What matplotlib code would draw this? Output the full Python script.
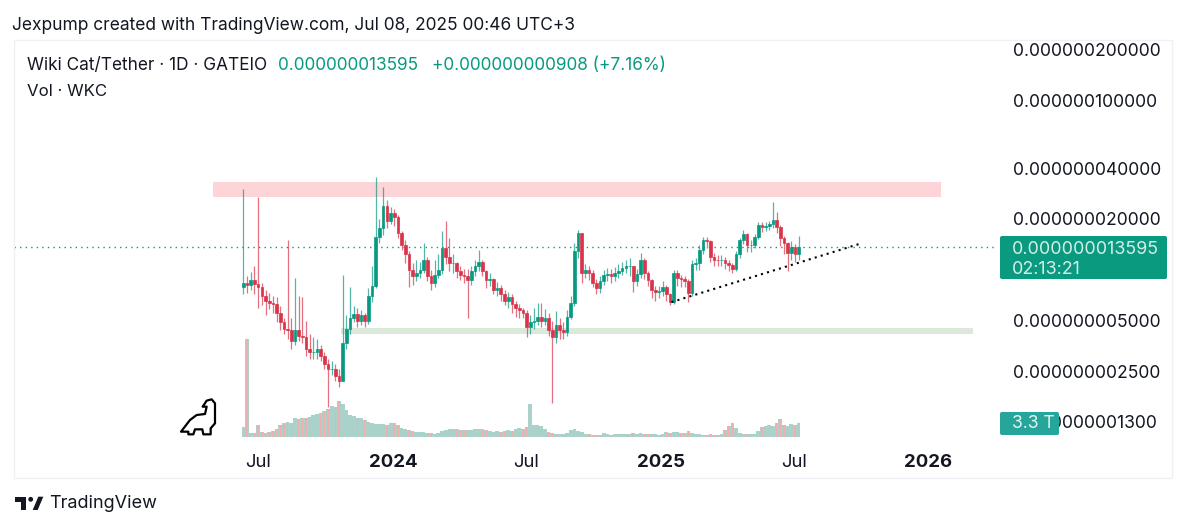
import matplotlib
matplotlib.use("Agg")
import matplotlib.pyplot as plt
import matplotlib.dates as mdates
from matplotlib.patches import Rectangle, Polygon, Circle, FancyBboxPatch
import numpy as np
import pandas as pd

plt.rcParams['font.family'] = ['Inter', 'DejaVu Sans']

# all prices are in units of 1e-9 USDT
closes = [8.4,8.2,8.7,8.3,7.9,7.0,6.6,6.4,6.3,5.6,4.9,4.5,4.4,3.8,4.4,4.1,4.0,3.4,3.3,3.3,3.4,3.1,2.8,2.6,2.6,2.35,2.2,3.7,4.5,5.2,5.5,5.0,5.4,5.0,7.0,8.0,15.7,17.8,24.0,19.5,21.8,20.5,16.5,14.0,12.5,10.0,9.2,9.6,10.0,11.5,9.2,8.4,9.3,10.0,13.5,11.9,11.0,11.0,9.9,9.4,9.2,8.7,9.8,10.5,11.2,9.8,8.7,8.8,7.6,7.8,7.2,6.6,6.9,6.3,6.0,5.8,5.6,4.6,4.9,5.0,5.3,5.0,5.2,4.4,4.0,4.7,4.4,4.3,5.3,6.4,13.0,16.5,9.6,10.0,9.6,8.4,7.8,8.6,9.3,9.5,9.2,9.6,9.8,10.3,10.5,10.5,8.6,9.5,11.5,9.6,8.7,7.6,7.4,7.5,7.9,7.2,6.5,9.6,9.0,8.8,8.6,7.3,10.8,11.0,13.1,15.0,14.8,12.0,11.5,11.4,11.5,11.0,10.7,10.2,12.4,15.0,16.3,14.0,14.0,15.7,18.4,18.0,18.2,18.6,19.6,18.0,15.5,14.4,12.6,13.6,12.4,13.595]
highs = [29.9,9.2,9.7,10.5,27.0,8.4,7.6,7.3,7.0,6.9,6.1,5.2,15.0,5.2,9.0,7.0,6.9,5.0,4.2,4.0,3.9,3.6,3.3,3.0,2.9,2.8,2.6,9.4,5.4,7.9,6.1,6.0,5.8,5.6,7.8,10.5,35.5,20.0,30.9,26.0,23.5,23.0,21.0,17.0,15.0,13.0,11.0,11.5,11.2,14.5,12.0,10.0,11.5,12.5,17.0,19.5,15.5,12.5,11.2,10.5,10.2,10.2,10.6,11.5,13.2,11.5,10.0,9.6,9.0,8.5,8.2,7.6,7.4,7.2,6.6,6.3,6.0,5.8,5.4,6.0,6.4,6.4,5.9,5.6,5.0,5.7,5.2,4.9,5.8,7.0,14.5,17.2,16.0,10.8,10.5,10.0,8.8,9.2,10.0,10.3,10.2,10.4,10.8,11.2,11.5,11.8,10.6,10.2,12.6,11.8,9.8,8.8,8.0,8.0,8.6,8.2,7.3,10.0,10.0,9.4,9.2,8.8,11.5,11.8,14.0,15.6,15.6,15.0,12.6,12.2,12.2,12.0,11.5,11.0,13.0,15.5,17.2,16.6,15.0,16.2,19.2,19.2,19.2,19.4,25.2,22.0,18.4,15.8,14.6,14.8,14.2,15.8]
lows = [7.2,7.3,7.6,7.2,6.0,6.2,5.4,5.9,5.6,4.9,4.4,4.2,3.9,3.4,3.6,3.8,3.7,3.1,3.0,3.0,3.0,2.9,2.6,1.56,2.4,2.2,2.05,2.2,3.4,4.2,4.9,4.6,4.7,4.6,4.8,6.5,7.8,14.5,16.0,17.8,18.8,18.2,15.5,13.2,11.0,7.9,8.2,8.6,9.0,9.6,8.6,7.6,7.9,9.0,9.5,10.8,9.8,9.6,9.0,8.7,8.4,5.2,8.2,9.2,9.8,9.2,7.8,8.0,7.2,7.0,6.6,6.2,6.0,5.6,5.3,5.2,5.2,4.0,4.2,4.5,4.7,4.6,4.7,4.1,1.64,3.7,3.9,3.9,4.1,5.1,6.1,11.8,8.4,9.0,8.7,7.9,7.2,7.3,8.2,8.6,8.4,8.6,9.0,9.3,9.6,9.2,7.4,8.0,9.0,8.8,8.0,6.8,6.6,6.8,7.0,6.6,6.2,6.3,8.0,7.9,7.9,6.5,7.0,10.0,10.0,12.4,13.4,11.2,10.6,10.6,10.5,10.2,9.8,9.6,9.8,11.8,14.2,12.8,12.8,13.4,15.3,16.8,17.0,17.2,17.6,16.6,13.8,12.4,9.9,11.4,11.2,11.4]
first_open = 7.9
volumes_T = [2.4,23.1,1.0,1.0,2.8,1.2,1.0,1.2,1.4,2.0,2.8,3.4,3.6,3.2,4.4,4.2,4.6,4.6,4.8,5.2,5.4,5.6,6.2,6.6,7.2,7.0,8.5,7.8,6.4,5.2,5.0,4.6,4.4,4.0,3.6,3.2,3.0,3.0,3.0,2.8,3.2,3.4,2.8,2.2,2.0,1.6,1.4,1.2,1.2,1.2,1.0,0.9,0.8,1.0,1.4,1.6,1.8,2.0,1.8,1.6,1.6,1.6,1.6,1.8,2.0,1.8,1.6,1.4,1.2,1.4,1.2,1.4,1.6,1.4,1.8,2.2,2.0,2.4,7.8,2.8,2.8,2.6,2.0,1.2,1.0,0.8,0.6,0.8,1.0,1.6,1.9,1.4,1.2,0.8,0.7,0.5,0.5,0.5,1.0,0.6,0.5,0.6,0.7,0.8,0.7,0.8,0.9,0.7,1.0,0.7,0.7,0.8,0.6,0.5,0.8,1.2,1.0,1.1,1.1,0.9,0.9,1.4,0.9,0.7,0.7,0.5,0.5,0.6,0.5,0.5,0.6,1.6,2.6,3.2,2.2,1.0,0.8,0.8,0.8,0.7,1.4,2.4,2.6,2.8,2.6,3.4,4.2,2.8,2.6,3.0,2.8,3.3]

start_date = "2023-06-13"
bar_days = 5
y_ticks = [200, 100, 40, 20, 5, 2.5, 1.27]
y_labels = ["0.000000200000", "0.000000100000", "0.000000040000", "0.000000020000",
            "0.000000005000", "0.000000002500", "0.000000001300"]
x_tick_dates = ["2023-07-03", "2024-01-03", "2024-07-01", "2025-01-01", "2025-07-01", "2025-12-30"]
x_tick_labels = ["Jul", "2024", "Jul", "2025", "Jul", "2026"]
bold_labels = {"2024", "2025", "2026"}
last_price = 13.595
resistance_zone = ("2023-05-02", "2026-01-16", 27.0, 33.1)
support_zone = ("2023-10-24", "2026-03-01", 4.19, 4.53)
trend_dates = ["2025-01-15", "2025-10-01"]
trend_prices = [6.46, 14.4]

UP, DOWN = "#089981", "#d8354a"
INK = "#131722"

fig = plt.figure(figsize=(12, 5.3), dpi=100, facecolor="white")
W, H = 1200, 530
def px_pos(x0, ytop, x1, ybot):
    return [x0 / W, 1 - ybot / H, (x1 - x0) / W, (ybot - ytop) / H]

pos = px_pos(14, 40, 995, 437)
ax_v = fig.add_axes(pos, zorder=1)
ax = fig.add_axes(pos, zorder=2, sharex=ax_v)
ax.patch.set_alpha(0)

dates = pd.date_range(start_date, periods=len(closes), freq=f"{bar_days}D")
x = mdates.date2num(dates)
closes_a = np.array(closes)
opens_a = np.array([first_open] + closes[:-1])
vols = np.array(volumes_T)
up = closes_a >= opens_a
cols = np.where(up, UP, DOWN)

ax_v.bar(x, vols, width=bar_days, color="#abd2ca", linewidth=0)
ax_v.bar(x[~up], vols[~up], width=1.9, color="#f0aeac", linewidth=0)
ax_v.set_ylim(0, 93.7)
ax_v.axis("off")

ax.add_patch(Rectangle((mdates.datestr2num(resistance_zone[0]), resistance_zone[2]),
                       mdates.datestr2num(resistance_zone[1]) - mdates.datestr2num(resistance_zone[0]),
                       resistance_zone[3] - resistance_zone[2], fc="#fdd5d8", ec="none", zorder=1))
ax.add_patch(Rectangle((mdates.datestr2num(support_zone[0]), support_zone[2]),
                       mdates.datestr2num(support_zone[1]) - mdates.datestr2num(support_zone[0]),
                       support_zone[3] - support_zone[2], fc="#dce9da", ec="none", zorder=1))
ax.axhline(last_price, color=UP, lw=1.0, ls=(0, (1, 3)), zorder=2)

ax.vlines(x, lows, highs, colors=cols, lw=0.9, alpha=0.7, zorder=3)
ax.bar(x, np.abs(closes_a - opens_a), bottom=np.minimum(closes_a, opens_a), width=3.6,
       color=cols, linewidth=0.5, edgecolor=cols, zorder=4)
ax.plot(mdates.datestr2num(trend_dates), trend_prices, color="black", lw=1.5, ls=(0, (1, 2)), zorder=5)

ax.set_yscale("log")
ax.set_ylim(1.032, 228)
ax.set_xlim(mdates.datestr2num("2022-08-05"), mdates.datestr2num("2026-03-31"))
for s in ax.spines.values():
    s.set_visible(False)
ax.yaxis.tick_right()
ax.set_yticks(y_ticks)
ax.set_yticklabels(y_labels, fontsize=12.6, color=INK, ha="left")
ax.minorticks_off()
ax.tick_params(axis="y", length=0, pad=13)
ax.set_xticks(mdates.datestr2num(x_tick_dates))
ax.set_xticklabels(x_tick_labels, fontsize=13.4, color=INK)
ax.tick_params(axis="x", length=0, pad=12)
for t in ax.get_xticklabels():
    if t.get_text() in bold_labels:
        t.set_fontweight("bold")

# overlay in pixel coordinates for chrome: header, tags, logos
ov = fig.add_axes([0, 0, 1, 1], zorder=10)
ov.set_xlim(0, W); ov.set_ylim(H, 0); ov.axis("off"); ov.patch.set_alpha(0)
ov.add_patch(Rectangle((14, 40), 1158, 438, fc="none", ec="#eef0f5", lw=1))
ov.text(12, 26, "Jexpump created with TradingView.com, Jul 08, 2025 00:46 UTC+3", fontsize=12.5, color=INK, va="center")
ov.text(27, 65, "Wiki Cat/Tether · 1D · GATEIO", fontsize=12.4, color=INK, va="center")
ov.text(278, 65, "0.000000013595", fontsize=12.4, color=UP, va="center")
ov.text(432, 65, "+0.000000000908 (+7.16%)", fontsize=12.4, color=UP, va="center")
ov.text(27, 91, "Vol · WKC", fontsize=12.1, color=INK, va="center")

ov.add_patch(FancyBboxPatch((1000, 236), 167, 43, boxstyle="round,pad=0,rounding_size=2", fc="#0a9a80", ec="none"))
ov.text(1012, 249, "0.000000013595", fontsize=12.9, color="#d5efe8", va="center")
ov.text(1012, 269, "02:13:21", fontsize=12.9, color="#d5efe8", va="center")
ov.add_patch(FancyBboxPatch((1000, 412), 59, 23, boxstyle="round,pad=0,rounding_size=2", fc="#26a69a", ec="none"))
ov.text(1012, 423, "3.3 T", fontsize=12.6, color="#e3f4f1", va="center")

dino = np.array([(608,50),(620,32),(635,28),(645,40),(645,100),(632,115),(632,133),(610,133),(607,118),(585,118),(580,133),(565,133),(565,125),(543,125),(570,90),(590,75),(615,72),(620,50)], float)
dino = dino / 3 + np.array([0, 390])
ov.add_patch(Polygon(dino, closed=True, fc="white", ec="black", lw=1.6, joinstyle="round"))

ov.add_patch(Polygon([(15,497.3),(26,497.3),(26,510),(20.7,510),(20.7,501.7),(15,501.7)], fc=INK, ec="none"))
ov.add_patch(Circle((30.7,499.3), 2.4, fc=INK, ec="none"))
ov.add_patch(Polygon([(32.7,510),(38.3,496.7),(43.3,496.7),(37.7,510)], fc=INK, ec="none"))
ov.text(49, 503.5, "TradingView", fontsize=13, color=INK, va="center")

fig.savefig("out.png", dpi=100)
